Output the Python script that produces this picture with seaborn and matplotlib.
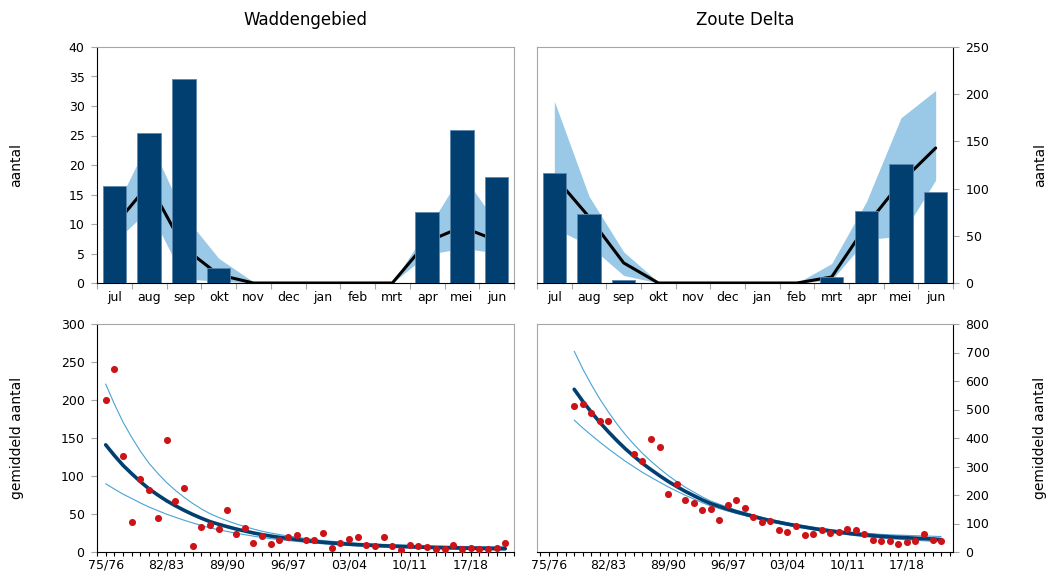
import matplotlib
matplotlib.use("Agg")
import matplotlib.pyplot as plt
import numpy as np
import seaborn as sns

sns.set_style("white")
plt.rcParams['font.family'] = ['DejaVu Sans']
plt.rcParams['text.color'] = 'black'
plt.rcParams['axes.labelcolor'] = 'black'
plt.rcParams['xtick.color'] = 'black'
plt.rcParams['ytick.color'] = 'black'

# ---- data: maandpatroon (boven) ----
months = ['jul', 'aug', 'sep', 'okt', 'nov', 'dec', 'jan', 'feb', 'mrt', 'apr', 'mei', 'jun']

wad_bars = [16.4, 25.5, 34.6, 2.6, 0, 0, 0, 0, 0, 12.0, 26.0, 18.0]
wad_mean = [9.7, 16.8, 6.0, 1.4, 0, 0, 0, 0, 0, 7.0, 9.5, 7.2]
wad_lo = [6.9, 12.5, 0.7, 0.3, 0, 0, 0, 0, 0, 4.8, 5.9, 5.1]
wad_hi = [12.3, 24.3, 11.5, 4.2, 0.2, 0.2, 0, 0, 0, 9.0, 18.6, 10.1]

zd_bars = [116, 73, 3, 0, 0, 0, 0, 0, 6.4, 76.2, 125.9, 96.5]
zd_mean = [113, 70, 21.3, 0, 0, 0, 0, 0, 6.4, 61, 107, 143]
zd_lo = [58, 40, 8, 0, 0, 0, 0, 0, 3, 46, 49.6, 109]
zd_hi = [192.6, 92, 33, 1, 0, 0, 0, 0, 20.6, 86, 175, 204]

# ---- data: seizoensgemiddelden (onder) ----
seasons = [f"{y % 100:02d}/{(y + 1) % 100:02d}" for y in range(1975, 2022)]
season_ticks = ['75/76', '82/83', '89/90', '96/97', '03/04', '10/11', '17/18']

wad_pts = [200, 241, 126, 39.4, 95.5, 81, 45, 147.6, 67.5, 83.7, 8.3, 32.4, 35.5, 29.8,
           55.6, 24, 31, 11.8, 20.6, 10.5, 15.8, 19.3, 21.9, 16.2, 15.3, 25.4, 5.3, 11.8,
           17.1, 19.3, 9.6, 7.9, 19.7, 7.4, 3.1, 8.8, 7.9, 6.1, 3.5, 3.9, 8.8, 4.4, 5.7,
           3.9, 4.4, 5.7, 11.4]
wad_trend = [141, 127, 114, 103, 92.5, 83, 75, 67.5, 61, 55, 49.5, 44.5, 40, 36.5, 33.3,
             30.3, 27.6, 25.1, 22.9, 21, 19.3, 17.8, 16.4, 15.1, 13.9, 12.8, 11.9, 11.1,
             10.3, 9.6, 9.1, 8.6, 8.1, 7.7, 7.3, 6.9, 6.5, 6.2, 5.9, 5.7, 5.5, 5.2, 5.0,
             4.8, 4.7, 4.5, 4.4]
wad_trend_hi = [221, 194.7, 170.8, 150.8, 132.6, 116.6, 103.4, 91.5, 81.3, 72.2, 64.0,
                56.8, 50.4, 45.5, 41.1, 37.0, 33.5, 30.2, 27.4, 25.0, 22.9, 21.1, 19.4,
                17.8, 16.4, 15.1, 14.1, 13.2, 12.3, 11.5, 11.0, 10.5, 10.0, 9.6, 9.2, 8.8,
                8.4, 8.1, 7.9, 7.7, 7.6, 7.3, 7.2, 7.0, 7.0, 6.9, 6.9]
wad_trend_lo = [89.8, 82.8, 76.1, 70.4, 64.5, 59.1, 54.4, 49.8, 45.8, 41.9, 38.3, 34.9,
                31.7, 29.3, 27.0, 24.8, 22.8, 20.9, 19.1, 17.6, 16.3, 15.0, 13.9, 12.8,
                11.8, 10.8, 10.0, 9.3, 8.6, 8.0, 7.5, 7.0, 6.6, 6.2, 5.8, 5.4, 5.0, 4.7,
                4.4, 4.2, 4.0, 3.7, 3.5, 3.3, 3.1, 2.9, 2.8]

nan = np.nan
zd_pts = [nan, nan, nan, 512.6, 518.5, 489, 458.7, 461, nan, nan, 343.7, 319, 397.7,
          369.5, 205, 237, 182, 172.4, 149, 151.3, 111.4, 166.6, 182, 154.8, 122, 104.4,
          109, 76.2, 69.2, 90.3, 61, 64.5, 76.2, 66.9, 70.4, 82.1, 78.6, 63.3, 42.2, 39.9,
          37.5, 28.2, 35.2, 38.7, 63.3, 43.4, 39.9]
zd_trend = [nan, nan, nan, 571, 529, 491, 455, 422, 391, 362, 336, 311, 289, 268, 248, 230,
            213, 198, 183, 170, 160, 150, 141, 133, 125, 117, 110, 104, 98, 92.5, 87.5,
            82.5, 78, 74, 70, 66, 62.5, 60, 57.5, 55, 53, 51.5, 50, 48.5, 47, 45.5, 44]
zd_trend_hi = [nan, nan, nan, 704.6, 642.7, 587.7, 536.9, 491.6, 449.7, 411.6, 377.7,
               346.1, 318.5, 292.9, 268.8, 247.5, 227.7, 210.5, 193.4, 178.8, 167.8, 156.9,
               147.1, 138.6, 130.1, 121.8, 114.6, 108.5, 102.5, 97.0, 92.1, 87.2, 82.9,
               79.1, 75.3, 71.5, 68.3, 66.1, 64.0, 61.8, 60.3, 59.2, 58.3, 57.2, 56.3,
               55.3, 54.3]
zd_trend_lo = [nan, nan, nan, 462.7, 435.4, 410.2, 385.6, 362.2, 340.0, 318.4, 298.9,
               279.4, 262.3, 245.2, 228.8, 213.8, 199.3, 186.3, 173.1, 161.6, 152.5, 143.4,
               135.2, 127.6, 120.1, 112.4, 105.6, 99.7, 93.7, 88.2, 83.2, 78.1, 73.4, 69.2,
               65.1, 60.9, 57.2, 54.4, 51.7, 48.9, 46.6, 44.8, 42.9, 41.1, 39.3, 37.4, 35.7]

BAR = '#003f6f'
BAND = '#99c9e6'
RED = '#cc1418'
THIN = '#4aa2d5'
GRID = '#a6a6a6'

W, H = 1054, 578
fig = plt.figure(figsize=(W / 100, H / 100), dpi=100)


def rect(l, t, r, b):
    return [l / W, 1 - b / H, (r - l) / W, (b - t) / H]


def frame(ax, right=False):
    for s in ax.spines.values():
        s.set_color(GRID)
        s.set_linewidth(0.8)
    ax.spines['bottom'].set_color('black')
    ax.spines['right' if right else 'left'].set_color('black')
    if right:
        ax.yaxis.tick_right()
        ax.yaxis.set_label_position('right')
    ax.tick_params(axis='y', length=4, width=0.8, color=GRID, pad=5, labelsize=9,
                   left=not right, right=right)


def month_panel(ax, bars, mean, lo, hi, ymax, ystep, title, right):
    pos = np.arange(len(months))
    ax.fill_between(pos, lo, hi, color=BAND, lw=0, zorder=1)
    sns.lineplot(x=pos, y=mean, color='black', lw=2.2, ax=ax, zorder=2)
    sns.barplot(x=months, y=bars, order=months, color=BAR, saturation=1, width=0.67,
                edgecolor='#5f87ad', linewidth=0.6, ax=ax, zorder=3)
    ax.set_xlim(-0.5, len(months) - 0.5)
    ax.set_ylim(0, ymax)
    ax.set_yticks(np.arange(0, ymax + 1, ystep))
    ax.set_xticks(pos)
    ax.set_xticklabels(months)
    ax.set_xticks(np.arange(-0.5, len(months)), minor=True)
    ax.tick_params(axis='x', which='major', length=0, pad=6, labelsize=9)
    ax.tick_params(axis='x', which='minor', length=4, width=0.8, color=GRID,
                   direction='out', bottom=True)
    ax.set_xlabel('')
    frame(ax, right)
    ax.set_ylabel('aantal', fontsize=10)
    ax.yaxis.set_label_coords(1.193 if right else -0.176, 0.5)
    ax.set_title(title, fontsize=12, pad=16)


def trend_panel(ax, pts, trend, hi, lo, ymax, ystep, xlim, right):
    pos = np.arange(len(seasons))
    sns.lineplot(x=pos, y=hi, color=THIN, lw=0.8, ax=ax, zorder=1)
    sns.lineplot(x=pos, y=lo, color=THIN, lw=0.8, ax=ax, zorder=1)
    sns.lineplot(x=pos, y=trend, color=BAR, lw=2.6, ax=ax, zorder=2)
    sns.scatterplot(x=pos, y=pts, color=RED, s=26, linewidth=0, ax=ax, zorder=3)
    ax.set_xlim(*xlim)
    ax.set_ylim(0, ymax)
    ax.set_yticks(np.arange(0, ymax + 1, ystep))
    ticks = np.arange(-1, len(seasons) + 1)
    ax.set_xticks(ticks)
    ax.set_xticklabels([seasons[t] if 0 <= t < len(seasons) and seasons[t] in season_ticks
                        else '' for t in ticks])
    ax.tick_params(axis='x', length=3, width=0.8, color='black', direction='out',
                   pad=2, labelsize=9, bottom=True)
    frame(ax, right)
    ax.set_ylabel('gemiddeld aantal', fontsize=10)
    ax.yaxis.set_label_coords(1.193 if right else -0.176, 0.5)


ax1 = fig.add_axes(rect(97, 47, 514, 283))
month_panel(ax1, wad_bars, wad_mean, wad_lo, wad_hi, 40, 5, 'Waddengebied', False)
ax2 = fig.add_axes(rect(537, 47, 953, 283))
month_panel(ax2, zd_bars, zd_mean, zd_lo, zd_hi, 250, 50, 'Zoute Delta', True)
ax3 = fig.add_axes(rect(97, 324, 514, 552))
trend_panel(ax3, wad_pts, wad_trend, wad_trend_hi, wad_trend_lo, 300, 50, (-1, 47), False)
ax4 = fig.add_axes(rect(537, 324, 953, 552))
trend_panel(ax4, zd_pts, zd_trend, zd_trend_hi, zd_trend_lo, 800, 100, (-1.36, 47.4), True)

fig.savefig('out.png', dpi=100)
